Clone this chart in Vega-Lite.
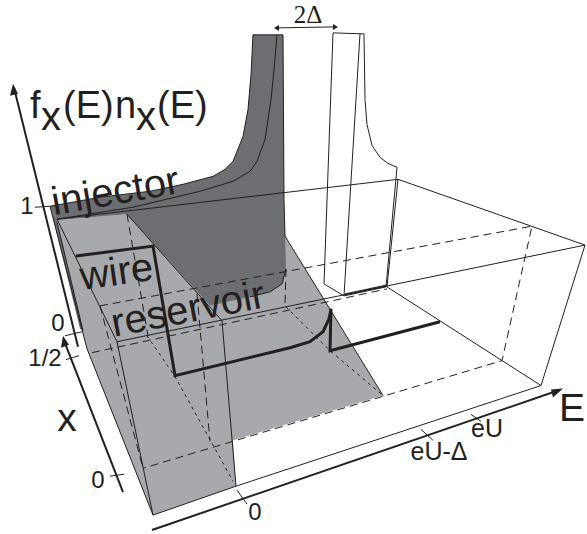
{"$schema":"https://vega.github.io/schema/vega-lite/v6.json","width":587,"height":534,"padding":0,"autosize":{"type":"fit","contains":"padding"},"background":"white","view":{"stroke":null},
"config":{"text":{"font":"Liberation Sans","color":"#231f20"}},
"datasets":{
"fills":[
{"id":"l1","s":1,"px":57,"py":221},{"id":"l1","s":2,"px":127,"py":215},{"id":"l1","s":3,"px":285,"py":237},{"id":"l1","s":4,"px":383,"py":397},{"id":"l1","s":5,"px":233,"py":442},{"id":"l1","s":6,"px":236,"py":488},{"id":"l1","s":7,"px":153,"py":517},{"id":"l1","s":8,"px":87,"py":350},{"id":"l1","s":9,"px":82,"py":330}
],
"darks":[
{"id":"d1","s":1,"px":50,"py":207},{"id":"d1","s":2,"px":100,"py":198},{"id":"d1","s":3,"px":150,"py":192},{"id":"d1","s":4,"px":183,"py":185},{"id":"d1","s":5,"px":213,"py":177},{"id":"d1","s":6,"px":225,"py":170},{"id":"d1","s":7,"px":233,"py":162},{"id":"d1","s":8,"px":243,"py":137},{"id":"d1","s":9,"px":248,"py":110},{"id":"d1","s":10,"px":251,"py":75},{"id":"d1","s":11,"px":253,"py":35},{"id":"d1","s":12,"px":283,"py":35},{"id":"d1","s":13,"px":284,"py":200},{"id":"d1","s":14,"px":286,"py":270},{"id":"d1","s":15,"px":282,"py":285},{"id":"d1","s":16,"px":270,"py":293},{"id":"d1","s":17,"px":210,"py":307},{"id":"d1","s":18,"px":127,"py":215},{"id":"d1","s":19,"px":57,"py":221},
{"id":"d2","s":1,"px":50,"py":207},{"id":"d2","s":2,"px":57,"py":221},{"id":"d2","s":3,"px":83,"py":332},{"id":"d2","s":4,"px":80,"py":330}
],
"thin":[
{"id":"a","s":1,"px":57,"py":220},{"id":"a","s":2,"px":398,"py":180},{"id":"a","s":3,"px":585,"py":246},{"id":"a","s":4,"px":541,"py":387},{"id":"a","s":5,"px":236,"py":488},{"id":"a","s":6,"px":153,"py":517},{"id":"a","s":7,"px":87,"py":350},{"id":"a","s":8,"px":50,"py":207},
{"id":"b","s":1,"px":117,"py":343},{"id":"b","s":2,"px":585,"py":246},
{"id":"c","s":1,"px":57,"py":220},{"id":"c","s":2,"px":117,"py":343},{"id":"c","s":3,"px":153,"py":517},
{"id":"c2","s":1,"px":57,"py":223},{"id":"c2","s":2,"px":83,"py":332},
{"id":"d","s":1,"px":222,"py":322},{"id":"d","s":2,"px":236,"py":488},
{"id":"e","s":1,"px":127,"py":215},{"id":"e","s":2,"px":222,"py":322},
{"id":"f","s":1,"px":285,"py":237},{"id":"f","s":2,"px":383,"py":397},
{"id":"g","s":1,"px":387,"py":288},{"id":"g","s":2,"px":541,"py":387},
{"id":"h","s":1,"px":50,"py":207},{"id":"h","s":2,"px":100,"py":198},{"id":"h","s":3,"px":150,"py":192},{"id":"h","s":4,"px":183,"py":185},{"id":"h","s":5,"px":213,"py":177},{"id":"h","s":6,"px":225,"py":170},{"id":"h","s":7,"px":233,"py":162},{"id":"h","s":8,"px":243,"py":137},{"id":"h","s":9,"px":248,"py":110},{"id":"h","s":10,"px":251,"py":75},{"id":"h","s":11,"px":253,"py":35},{"id":"h","s":12,"px":283,"py":35},{"id":"h","s":13,"px":284,"py":200},{"id":"h","s":14,"px":285,"py":237},
{"id":"h2","s":1,"px":286,"py":270},{"id":"h2","s":2,"px":282,"py":285},{"id":"h2","s":3,"px":270,"py":293},{"id":"h2","s":4,"px":250,"py":298},
{"id":"i","s":1,"px":57,"py":220},{"id":"i","s":2,"px":133,"py":208},{"id":"i","s":3,"px":200,"py":192},{"id":"i","s":4,"px":233,"py":182},{"id":"i","s":5,"px":250,"py":172},{"id":"i","s":6,"px":257,"py":162},{"id":"i","s":7,"px":265,"py":140},{"id":"i","s":8,"px":271,"py":100},{"id":"i","s":9,"px":274,"py":70},{"id":"i","s":10,"px":277,"py":35},
{"id":"j","s":1,"px":324,"py":285},{"id":"j","s":2,"px":333,"py":33},{"id":"j","s":3,"px":364,"py":34},{"id":"j","s":4,"px":365,"py":100},{"id":"j","s":5,"px":367,"py":125},{"id":"j","s":6,"px":372,"py":146},{"id":"j","s":7,"px":380,"py":158},{"id":"j","s":8,"px":388,"py":164},{"id":"j","s":9,"px":397,"py":168},{"id":"j","s":10,"px":386,"py":288},
{"id":"k","s":1,"px":360,"py":34},{"id":"k","s":2,"px":344,"py":297},{"id":"k","s":3,"px":386,"py":288},
{"id":"l","s":1,"px":324,"py":285},{"id":"l","s":2,"px":344,"py":297},
{"id":"m","s":1,"px":398,"py":180},{"id":"m","s":2,"px":387,"py":288},
{"id":"n","s":1,"px":345,"py":296},{"id":"n","s":2,"px":387,"py":287},
{"id":"o","s":1,"px":345,"py":295},{"id":"o","s":2,"px":387,"py":286},
{"id":"t1","s":1,"px":35,"py":208},{"id":"t1","s":2,"px":50,"py":207},
{"id":"t2","s":1,"px":65,"py":337},{"id":"t2","s":2,"px":82,"py":333},
{"id":"t3","s":1,"px":66,"py":361},{"id":"t3","s":2,"px":79,"py":357},
{"id":"t4","s":1,"px":110,"py":478},{"id":"t4","s":2,"px":124,"py":476},
{"id":"t5","s":1,"px":237,"py":492},{"id":"t5","s":2,"px":247,"py":506},
{"id":"t6","s":1,"px":471,"py":416},{"id":"t6","s":2,"px":481,"py":423},
{"id":"t7","s":1,"px":421,"py":431},{"id":"t7","s":2,"px":433,"py":442},
{"id":"u","s":1,"px":276,"py":28},{"id":"u","s":2,"px":336,"py":27}
],
"dashed":[
{"id":"a","s":1,"px":100,"py":307},{"id":"a","s":2,"px":532,"py":227},{"id":"a","s":3,"px":502,"py":362},{"id":"a","s":4,"px":143,"py":470},
{"id":"b","s":1,"px":100,"py":307},{"id":"b","s":2,"px":143,"py":470},
{"id":"c","s":1,"px":92,"py":354},{"id":"c","s":2,"px":387,"py":290},
{"id":"d","s":1,"px":127,"py":215},{"id":"d","s":2,"px":148,"py":337},
{"id":"e","s":1,"px":197,"py":295},{"id":"e","s":2,"px":210,"py":443},
{"id":"f","s":1,"px":286,"py":270},{"id":"f","s":2,"px":285,"py":307}
],
"dotted":[
{"id":"a","s":1,"px":147,"py":337},{"id":"a","s":2,"px":175,"py":378},{"id":"a","s":3,"px":233,"py":483},
{"id":"b","s":1,"px":286,"py":308},{"id":"b","s":2,"px":330,"py":352},{"id":"b","s":3,"px":383,"py":397}
],
"thick":[
{"id":"a","s":1,"px":76,"py":257},{"id":"a","s":2,"px":153,"py":247},{"id":"a","s":3,"px":175,"py":377},{"id":"a","s":4,"px":290,"py":349},{"id":"a","s":5,"px":310,"py":343},{"id":"a","s":6,"px":323,"py":333},{"id":"a","s":7,"px":329,"py":320},{"id":"a","s":8,"px":331,"py":310},{"id":"a","s":9,"px":330,"py":352},{"id":"a","s":10,"px":440,"py":323}
],
"axes":[
{"id":"y","s":1,"px":78,"py":348},{"id":"y","s":2,"px":14,"py":88},
{"id":"x","s":1,"px":123,"py":494},{"id":"x","s":2,"px":64,"py":342},
{"id":"e","s":1,"px":152,"py":532},{"id":"e","s":2,"px":558,"py":392}
],
"heads":[
{"id":"y","s":1,"px":13,"py":84},{"id":"y","s":2,"px":18,"py":94},{"id":"y","s":3,"px":10,"py":96},
{"id":"x","s":1,"px":63,"py":337},{"id":"x","s":2,"px":69,"py":346},{"id":"x","s":3,"px":61,"py":349},
{"id":"e","s":1,"px":563,"py":390},{"id":"e","s":2,"px":553,"py":399},{"id":"e","s":3,"px":551,"py":391},
{"id":"u","s":1,"px":274,"py":28},{"id":"u","s":2,"px":279,"py":25},{"id":"u","s":3,"px":279,"py":31},
{"id":"v","s":1,"px":338,"py":27},{"id":"v","s":2,"px":333,"py":24},{"id":"v","s":3,"px":333,"py":30}
]
},
"layer":[
{"data":{"name":"fills"},"mark":{"type":"line","fill":"#a7a9ac","stroke":null,"strokeWidth":0},"encoding":{"x":{"field":"px","type":"quantitative","scale":{"domain":[0,587],"nice":false,"zero":false},"axis":null},"y":{"field":"py","type":"quantitative","scale":{"domain":[534,0],"nice":false,"zero":false},"axis":null},"detail":{"field":"id"},"order":{"field":"s"}}},
{"data":{"name":"darks"},"mark":{"type":"line","fill":"#6d6e71","stroke":null,"strokeWidth":0},"encoding":{"x":{"field":"px","type":"quantitative","axis":null},"y":{"field":"py","type":"quantitative","axis":null},"detail":{"field":"id"},"order":{"field":"s"}}},
{"data":{"name":"dashed"},"mark":{"type":"line","stroke":"#231f20","strokeWidth":1,"strokeDash":[8,5]},"encoding":{"x":{"field":"px","type":"quantitative","axis":null},"y":{"field":"py","type":"quantitative","axis":null},"detail":{"field":"id"},"order":{"field":"s"}}},
{"data":{"name":"dotted"},"mark":{"type":"line","stroke":"#231f20","strokeWidth":1,"strokeDash":[3,4]},"encoding":{"x":{"field":"px","type":"quantitative","axis":null},"y":{"field":"py","type":"quantitative","axis":null},"detail":{"field":"id"},"order":{"field":"s"}}},
{"data":{"name":"thin"},"mark":{"type":"line","stroke":"#231f20","strokeWidth":1},"encoding":{"x":{"field":"px","type":"quantitative","axis":null},"y":{"field":"py","type":"quantitative","axis":null},"detail":{"field":"id"},"order":{"field":"s"}}},
{"data":{"name":"thick"},"mark":{"type":"line","stroke":"#231f20","strokeWidth":3},"encoding":{"x":{"field":"px","type":"quantitative","axis":null},"y":{"field":"py","type":"quantitative","axis":null},"detail":{"field":"id"},"order":{"field":"s"}}},
{"data":{"name":"axes"},"mark":{"type":"line","stroke":"#231f20","strokeWidth":2},"encoding":{"x":{"field":"px","type":"quantitative","axis":null},"y":{"field":"py","type":"quantitative","axis":null},"detail":{"field":"id"},"order":{"field":"s"}}},
{"data":{"name":"heads"},"mark":{"type":"line","fill":"#231f20","stroke":null,"strokeWidth":0},"encoding":{"x":{"field":"px","type":"quantitative","axis":null},"y":{"field":"py","type":"quantitative","axis":null},"detail":{"field":"id"},"order":{"field":"s"}}},
{"data":{"values":[{"t":"f","px":30,"py":118},{"t":"(E)","px":63,"py":118},{"t":"n","px":115,"py":118},{"t":"(E)","px":157,"py":118}]},"mark":{"type":"text","fontSize":38,"align":"left","baseline":"alphabetic"},"encoding":{"x":{"field":"px","type":"quantitative","axis":null},"y":{"field":"py","type":"quantitative","axis":null},"text":{"field":"t"}}},
{"data":{"values":[{"t":"x","px":41,"py":130},{"t":"x","px":136,"py":130}]},"mark":{"type":"text","fontSize":40,"align":"left","baseline":"alphabetic"},"encoding":{"x":{"field":"px","type":"quantitative","axis":null},"y":{"field":"py","type":"quantitative","axis":null},"text":{"field":"t"}}},
{"data":{"values":[{"t":"injector","px":54,"py":216}]},"mark":{"type":"text","fontSize":40,"align":"left","baseline":"alphabetic","angle":350},"encoding":{"x":{"field":"px","type":"quantitative","axis":null},"y":{"field":"py","type":"quantitative","axis":null},"text":{"field":"t"}}},
{"data":{"values":[{"t":"wire","px":82,"py":291}]},"mark":{"type":"text","fontSize":40,"align":"left","baseline":"alphabetic","angle":352},"encoding":{"x":{"field":"px","type":"quantitative","axis":null},"y":{"field":"py","type":"quantitative","axis":null},"text":{"field":"t"}}},
{"data":{"values":[{"t":"reservoir","px":114,"py":338}]},"mark":{"type":"text","fontSize":40,"align":"left","baseline":"alphabetic","angle":349},"encoding":{"x":{"field":"px","type":"quantitative","axis":null},"y":{"field":"py","type":"quantitative","axis":null},"text":{"field":"t"}}},
{"data":{"values":[{"t":"1","px":27,"py":208},{"t":"0","px":58,"py":325},{"t":"1/2","px":45,"py":360},{"t":"0","px":98,"py":483},{"t":"0","px":255,"py":515}]},"mark":{"type":"text","fontSize":24,"align":"center","baseline":"middle"},"encoding":{"x":{"field":"px","type":"quantitative","axis":null},"y":{"field":"py","type":"quantitative","axis":null},"text":{"field":"t"}}},
{"data":{"values":[{"t":"eU","px":487,"py":431},{"t":"eU-Δ","px":439,"py":454}]},"mark":{"type":"text","fontSize":25,"align":"center","baseline":"middle"},"encoding":{"x":{"field":"px","type":"quantitative","axis":null},"y":{"field":"py","type":"quantitative","axis":null},"text":{"field":"t"}}},
{"data":{"values":[{"t":"x","px":67,"py":433},{"t":"E","px":572,"py":423}]},"mark":{"type":"text","fontSize":39,"align":"center","baseline":"alphabetic"},"encoding":{"x":{"field":"px","type":"quantitative","axis":null},"y":{"field":"py","type":"quantitative","axis":null},"text":{"field":"t"}}},
{"data":{"values":[{"t":"2Δ","px":308,"py":23}]},"mark":{"type":"text","font":"Liberation Serif","fontSize":25,"align":"center","baseline":"alphabetic"},"encoding":{"x":{"field":"px","type":"quantitative","axis":null},"y":{"field":"py","type":"quantitative","axis":null},"text":{"field":"t"}}}
]}
